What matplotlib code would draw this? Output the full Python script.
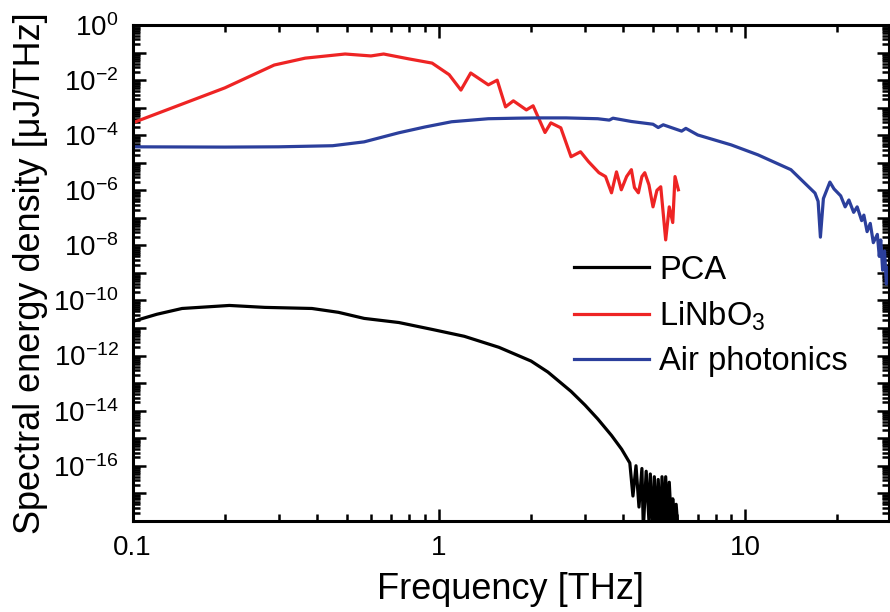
import numpy as np
import matplotlib
matplotlib.use("Agg")
from matplotlib import pyplot as plt
from matplotlib.ticker import LogLocator, NullFormatter

plt.rcParams['font.family'] = ['Liberation Sans', 'DejaVu Sans']
plt.rcParams['mathtext.fontset'] = 'custom'
plt.rcParams['mathtext.rm'] = 'Liberation Sans'
plt.rcParams['mathtext.it'] = 'Liberation Sans'
plt.rcParams['mathtext.default'] = 'regular'

# frequency in THz, values as log10 of spectral energy density (uJ/THz)
linbo3_f = [0.1, 0.2, 0.29, 0.366, 0.494, 0.6, 0.66, 0.8, 0.95, 1.08, 1.18, 1.27, 1.45, 1.55,
            1.65, 1.75, 1.93, 2.03, 2.22, 2.32, 2.5, 2.7, 2.9, 3.08, 3.33, 3.5, 3.66, 3.8,
            3.94, 4.1, 4.25, 4.35, 4.48, 4.6, 4.7, 4.85, 5.0, 5.15, 5.3, 5.5, 5.65, 5.8, 5.9, 6.05]
linbo3_log = [-3.55, -2.28, -1.45, -1.2, -1.05, -1.12, -1.05, -1.23, -1.38, -1.8, -2.36, -1.74,
              -2.17, -2.0, -2.97, -2.75, -3.08, -2.93, -3.9, -3.55, -3.73, -4.78, -4.6, -4.96,
              -5.36, -5.5, -6.09, -5.33, -5.98, -5.5, -5.25, -5.9, -6.09, -5.5, -5.36, -5.8,
              -6.6, -6.0, -5.87, -7.8, -6.6, -7.17, -5.5, -5.98]

air_f = [0.1, 0.2, 0.3, 0.45, 0.57, 0.74, 0.9, 1.1, 1.45, 1.8, 2.1, 2.6, 3.3, 3.6, 3.7, 4.25,
         5.0, 5.2, 5.4, 6.2, 6.4, 7.0, 9.0, 11.0, 14.1, 16.9, 17.3, 17.6, 18.0, 18.9, 19.5, 20.5,
         21.2, 21.8, 22.6, 23.2, 24.0, 24.4, 25.0, 25.6, 26.2, 27.0, 27.4, 27.7, 28.1, 28.5,
         28.9, 29.3]
air_log = [-4.42, -4.43, -4.42, -4.38, -4.24, -3.91, -3.7, -3.51, -3.4, -3.38, -3.37, -3.37,
           -3.4, -3.45, -3.38, -3.5, -3.6, -3.72, -3.62, -3.85, -3.75, -3.99, -4.35, -4.71,
           -5.25, -6.1, -6.4, -7.7, -6.3, -5.7, -5.95, -6.2, -6.6, -6.35, -6.8, -6.6, -7.1,
           -6.9, -7.5, -7.2, -7.9, -7.6, -8.4, -7.8, -8.9, -8.2, -9.4, -8.8]

pca_f = [0.1, 0.12, 0.145, 0.207, 0.27, 0.385, 0.47, 0.57, 0.74, 0.95, 1.21, 1.57, 2.0,
         2.27, 2.7, 3.0, 3.3, 3.66, 3.95, 4.2, 4.3, 4.4, 4.5, 4.6, 4.65, 4.75, 4.85, 4.9,
         5.0, 5.05, 5.15, 5.2, 5.3, 5.35, 5.45, 5.5, 5.6, 5.65, 5.75, 5.8, 5.9, 5.95, 6.05]
pca_log = [-10.76, -10.5, -10.29, -10.18, -10.25, -10.29, -10.43, -10.65, -10.8, -11.05,
           -11.3, -11.7, -12.2, -12.6, -13.3, -13.8, -14.3, -14.9, -15.4, -15.9, -17.1,
           -16.0, -17.5, -16.1, -18.3, -16.2, -18.0, -16.3, -18.5, -16.4, -18.3, -16.5,
           -18.5, -16.4, -18.2, -16.4, -18.5, -16.6, -18.3, -17.2, -18.5, -17.4, -18.5]

fig = plt.figure(figsize=(8.9, 6.12), dpi=100)
ax = fig.add_axes([0.149, 0.149, 0.85, 0.81])

ax.plot(pca_f, 10.0 ** np.array(pca_log), color='black', lw=2.3, label='PCA')
ax.plot(linbo3_f, 10.0 ** np.array(linbo3_log), color='#ee2424', lw=2.3, label='LiNbO$_3$')
ax.plot(air_f, 10.0 ** np.array(air_log), color='#2b3f9c', lw=2.3, label='Air photonics')

ax.set_xscale('log')
ax.set_yscale('log')
ax.set_xlim(0.1, 29.5)
ax.set_ylim(1e-18, 1)

ax.set_xticks([0.1, 1, 10])
ax.set_xticklabels(['0.1', '1', '10'])
ax.xaxis.set_minor_locator(LogLocator(base=10, subs=np.arange(2, 10), numticks=20))
ax.xaxis.set_minor_formatter(NullFormatter())

yexp = np.arange(-18, 1)
ax.set_yticks(10.0 ** yexp)
ax.set_yticklabels(['' if (e % 2 or e == -18) else '$10^{%d}$' % e for e in yexp])
ax.yaxis.set_minor_locator(LogLocator(base=10, subs=np.arange(2, 10), numticks=100))
ax.yaxis.set_minor_formatter(NullFormatter())

ax.tick_params(which='both', direction='in', top=True, right=True, width=1.8)
ax.tick_params(which='major', length=9, labelsize=20, pad=10)
ax.tick_params(which='minor', length=5)
for s in ax.spines.values():
    s.set_linewidth(2.2)

ax.set_xlabel('Frequency [THz]', fontsize=26, labelpad=8)
ax.set_ylabel('Spectral energy density [μJ/THz]', fontsize=26, labelpad=4)

ax.legend(loc='upper left', bbox_to_anchor=(0.584, 0.537), frameon=False, fontsize=23.5,
          handlelength=2.3, labelspacing=0.42, handletextpad=0.3, borderaxespad=0,
          borderpad=0)

fig.savefig('out.png', dpi=100)
